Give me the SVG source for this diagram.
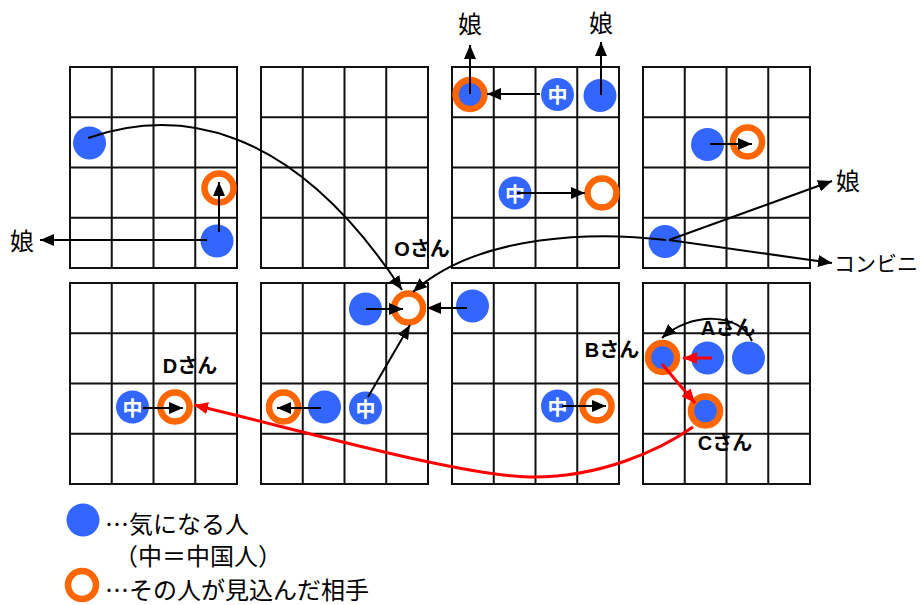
<svg xmlns="http://www.w3.org/2000/svg" xmlns:xlink="http://www.w3.org/1999/xlink" width="924" height="605" viewBox="0 0 924 605">
<style>
.gl{stroke:#111;stroke-width:2;fill:none}
.dot{fill:#3366FF}
.ring{fill:#fff;stroke:#FF6600;stroke-width:6.5}
.ringb{fill:#3366FF;stroke:#FF6600;stroke-width:6.5}
.chu{fill:#fff;font-family:"Noto Sans CJK JP",sans-serif;font-weight:bold;font-size:20px;text-anchor:middle;dominant-baseline:central}
.lbl{fill:#000;font-family:"Noto Sans CJK JP",sans-serif;font-size:24px;dominant-baseline:central}
.sm{font-size:21px}
.nm{fill:#000;font-family:"Liberation Sans","Noto Sans CJK JP",sans-serif;font-weight:bold;font-size:20px;text-anchor:middle;dominant-baseline:central}
.bk{stroke:#000;stroke-width:2;fill:none;marker-end:url(#ah)}
.rd{stroke:#FF0000;stroke-width:3;fill:none;marker-end:url(#ahr)}
</style>
<defs>
<marker id="ah" viewBox="0 0 14 12" refX="14" refY="6" markerWidth="14" markerHeight="12" markerUnits="userSpaceOnUse" orient="auto"><path d="M0,0 L14,6 L0,12 z" fill="#000"/></marker>
<marker id="ahr" viewBox="0 0 14 12" refX="14" refY="6" markerWidth="14" markerHeight="12" markerUnits="userSpaceOnUse" orient="auto"><path d="M0,0 L14,6 L0,12 z" fill="#FF0000"/></marker>
<g id="grid">
<rect class="gl" x="0" y="0" width="167" height="201"/>
<path class="gl" d="M41.75,0V201M83.5,0V201M125.25,0V201M0,50.25H167M0,100.5H167M0,150.75H167"/>
</g>
</defs>
<rect width="924" height="605" fill="#fff"/>
<g id="grids">
<use xlink:href="#grid" x="70" y="67"/>
<use xlink:href="#grid" x="261" y="67"/>
<use xlink:href="#grid" x="452" y="67"/>
<use xlink:href="#grid" x="643" y="67"/>
<use xlink:href="#grid" x="70" y="283"/>
<use xlink:href="#grid" x="261" y="283"/>
<use xlink:href="#grid" x="452" y="283"/>
<use xlink:href="#grid" x="643" y="283"/>
</g>
<g id="people">
<g id="p1"><circle class="dot" cx="89.5" cy="143" r="16.5"/></g>
<g id="p2"><circle class="ring" cx="219" cy="188" r="14.5"/></g>
<g id="p3"><circle class="dot" cx="217" cy="241" r="16.5"/></g>
<g id="p4"><circle class="ringb" cx="470" cy="94.5" r="14.5"/></g>
<g id="p5"><circle class="dot" cx="557.5" cy="94.5" r="16.5"/><text class="chu" x="557.5" y="94.5">中</text></g>
<g id="p6"><circle class="dot" cx="600" cy="95.5" r="16.5"/></g>
<g id="p7"><circle class="dot" cx="515" cy="193" r="16.5"/><text class="chu" x="515" y="193">中</text></g>
<g id="p8"><circle class="ring" cx="602" cy="193" r="14.5"/></g>
<g id="p9"><circle class="dot" cx="707.5" cy="144.5" r="16.5"/></g>
<g id="p10"><circle class="ring" cx="747.5" cy="142" r="14.5"/></g>
<g id="p11"><circle class="dot" cx="665" cy="241.5" r="16.5"/></g>
<g id="p12"><circle class="dot" cx="132.5" cy="407" r="16.5"/><text class="chu" x="132.5" y="407">中</text></g>
<g id="pD"><circle class="ring" cx="175" cy="407" r="14.5"/></g>
<g id="p13"><circle class="dot" cx="365.5" cy="309" r="16.5"/></g>
<g id="pO"><circle class="ring" cx="408.5" cy="308" r="14.5"/></g>
<g id="p14"><circle class="ring" cx="283.5" cy="407" r="14.5"/></g>
<g id="p15"><circle class="dot" cx="324.5" cy="407" r="16.5"/></g>
<g id="p16"><circle class="dot" cx="365.5" cy="408" r="16.5"/><text class="chu" x="365.5" y="408">中</text></g>
<g id="p17"><circle class="dot" cx="472.5" cy="306" r="16.5"/></g>
<g id="p18"><circle class="dot" cx="557.5" cy="406" r="16.5"/><text class="chu" x="557.5" y="406">中</text></g>
<g id="p19"><circle class="ring" cx="597" cy="406" r="14.5"/></g>
<g id="pB"><circle class="ringb" cx="662.5" cy="357.5" r="14.5"/></g>
<g id="pA"><circle class="dot" cx="707.5" cy="358" r="16.5"/></g>
<g id="p20"><circle class="dot" cx="748.5" cy="358" r="16.5"/></g>
<g id="pC"><circle class="ringb" cx="705.5" cy="411" r="14.5"/></g>
</g>
<g id="connectors">
<path class="bk" d="M219,232V182"/>
<path class="bk" d="M207,240H40"/>
<path class="bk" d="M88,138C175,108 290,120 402,290"/>
<path class="bk" d="M666,240C600,232 480,232 413,292"/>
<path class="bk" d="M540,94H487"/>
<path class="bk" d="M470,94V45"/>
<path class="bk" d="M601,95V42"/>
<path class="bk" d="M517,193H585"/>
<path class="bk" d="M710,144H752"/>
<path class="bk" d="M669,240L832,181"/>
<path class="bk" d="M669,240L832,263"/>
<path class="bk" d="M143,408H183"/>
<path class="bk" d="M366,309H403"/>
<path class="bk" d="M321,408H277"/>
<path class="bk" d="M368,397L410,325"/>
<path class="bk" d="M467,308H427"/>
<path class="bk" d="M562,406H606"/>
<path class="bk" d="M752,341C740,312 690,312 662,338"/>
<path class="rd" d="M712,358H683"/>
<path class="rd" d="M662,364L695,403"/>
<path class="rd" d="M693,427C660,450 600,478 530,477C460,476 300,430 194,405"/>
</g>
<g id="labels">
<text class="lbl" x="22" y="239" text-anchor="middle">娘</text>
<text class="lbl" x="470" y="22" text-anchor="middle">娘</text>
<text class="lbl" x="601" y="21" text-anchor="middle">娘</text>
<text class="lbl" x="848" y="179" text-anchor="middle">娘</text>
<text class="lbl sm" x="834" y="262">コンビニ</text>
<text class="nm" x="422" y="249">Oさん</text>
<text class="nm" x="190" y="366">Dさん</text>
<text class="nm" x="728" y="328">Aさん</text>
<text class="nm" x="612" y="350">Bさん</text>
<text class="nm" x="725" y="443">Cさん</text>
</g>
<g id="legend">
<circle class="dot" cx="83" cy="520" r="16.5"/>
<text class="lbl" x="105" y="522">…気になる人</text>
<text class="lbl" x="114" y="554">（中＝中国人）</text>
<circle class="ring" cx="82" cy="585" r="14"/>
<text class="lbl" x="105" y="588">…その人が見込んだ相手</text>
</g>
</svg>
